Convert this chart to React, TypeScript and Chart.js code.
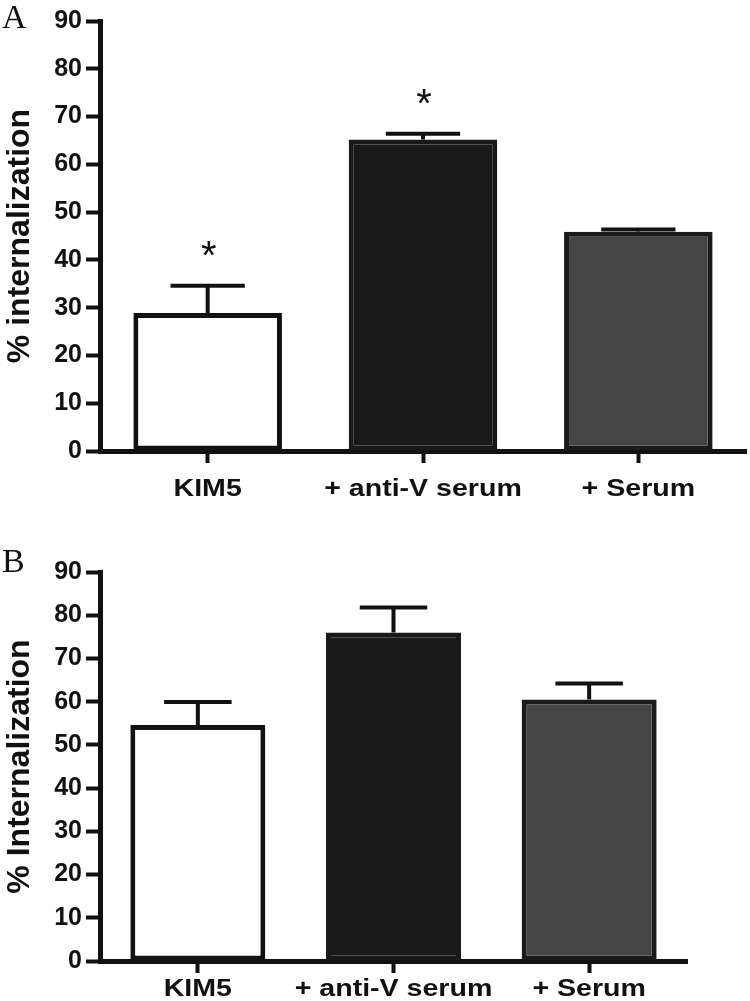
import React, { useEffect, useRef } from "react";
import { Chart, registerables } from "chart.js";

Chart.register(...registerables);

const categories = ["KIM5", "+ anti-V serum", "+ Serum"];
const valuesA = [28.9, 65.2, 45.9];
const errorsA = [5.7, 1.2, 0.45];
const starsA = ["*", "*", ""];
const valuesB = [54.6, 76.0, 60.5];
const errorsB = [5.3, 5.8, 3.7];
const starsB = ["", "", ""];
const yMin = 0;
const yMax = 90;
const yStep = 10;

const barFills = ["#ffffff", "#191919", "#454545"];
const barBorders = ["#121212", "#191919", "#1a1a1a"];
const INK = "#111111";
const SANS = '"Liberation Sans", Arial, Helvetica, sans-serif';

const errorBarPlugin = {
  id: "errorBars",
  afterDatasetsDraw(chart: any, _args: any, opts: any) {
    const { ctx } = chart;
    const meta = chart.getDatasetMeta(0);
    const yScale = chart.scales.y;
    const data = chart.data.datasets[0].data as number[];
    ctx.save();
    meta.data.forEach((bar: any, i: number) => {
      const { x, y, width } = bar.getProps(["x", "y", "width"], true);
      const capY = yScale.getPixelForValue(data[i] + opts.errors[i]);
      ctx.strokeStyle = INK;
      ctx.lineWidth = 4;
      ctx.lineCap = "butt";
      ctx.beginPath();
      ctx.moveTo(x, y);
      ctx.lineTo(x, capY);
      ctx.moveTo(x - width / 4, capY);
      ctx.lineTo(x + width / 4, capY);
      ctx.stroke();
      if (opts.stars[i]) {
        ctx.fillStyle = INK;
        ctx.font = `40px ${SANS}`;
        ctx.textAlign = "center";
        ctx.textBaseline = "alphabetic";
        ctx.fillText(opts.stars[i], x + 1, capY - 17);
      }
    });
    ctx.restore();
  },
};

// category labels, drawn slightly widened to match the reference lettering
const xLabelPlugin = {
  id: "xLabels",
  afterDraw(chart: any, _args: any, opts: any) {
    const { ctx } = chart;
    const xScale = chart.scales.x;
    const labels = chart.data.labels as string[];
    ctx.save();
    ctx.fillStyle = INK;
    ctx.font = `bold 24px ${SANS}`;
    ctx.textAlign = "center";
    ctx.textBaseline = "alphabetic";
    labels.forEach((lab, i) => {
      const x = xScale.getPixelForValue(i);
      ctx.save();
      ctx.translate(x, opts.baseline);
      ctx.scale(1.19, 1);
      ctx.fillText(lab, 0, 0);
      ctx.restore();
    });
    ctx.restore();
  },
};

const letterPlugin = {
  id: "panelLetter",
  afterDraw(chart: any, _args: any, opts: any) {
    const { ctx } = chart;
    ctx.save();
    ctx.fillStyle = INK;
    ctx.font = '34px "Liberation Serif", "Times New Roman", serif';
    ctx.textAlign = "left";
    ctx.textBaseline = "alphabetic";
    ctx.fillText(opts.letter, opts.x, opts.y);
    ctx.restore();
  },
};

type PanelProps = {
  letter: string;
  letterY: number;
  values: number[];
  errors: number[];
  stars: string[];
  yTitle: string;
  top: number;
  height: number;
  padTop: number;
  padRight: number;
  xAxisHeight: number;
  labelBaseline: number;
};

function Panel(p: PanelProps) {
  const ref = useRef<HTMLCanvasElement | null>(null);
  useEffect(() => {
    if (!ref.current) return;
    const chart = new Chart(ref.current, {
      type: "bar",
      data: {
        labels: categories,
        datasets: [
          {
            data: p.values,
            backgroundColor: barFills,
            borderColor: barBorders,
            borderWidth: 5,
            borderSkipped: false,
            barPercentage: 0.69,
            categoryPercentage: 1,
          },
        ],
      },
      options: {
        responsive: false,
        maintainAspectRatio: false,
        animation: false,
        layout: { padding: { top: p.padTop, right: p.padRight, left: 0, bottom: 0 } },
        plugins: {
          legend: { display: false },
          tooltip: { enabled: false },
          errorBars: { errors: p.errors, stars: p.stars },
          xLabels: { baseline: p.labelBaseline },
          panelLetter: { letter: p.letter, x: 2, y: p.letterY },
        } as any,
        scales: {
          x: {
            offset: true,
            grid: {
              offset: false,
              drawOnChartArea: false,
              drawTicks: true,
              tickLength: 12,
              tickWidth: 4,
              tickColor: INK,
            },
            border: { display: true, color: INK, width: 5 },
            ticks: {
              display: false,
              autoSkip: false,
              maxRotation: 0,
              minRotation: 0,
            },
            afterFit: (s: any) => {
              s.height = p.xAxisHeight;
            },
          },
          y: {
            min: yMin,
            max: yMax,
            grid: {
              drawOnChartArea: false,
              drawTicks: true,
              tickLength: 14,
              tickWidth: 4,
              tickColor: INK,
            },
            border: { display: true, color: INK, width: 5 },
            ticks: {
              stepSize: yStep,
              color: INK,
              font: { family: SANS, size: 25, weight: "bold" },
              padding: 4,
            },
            title: {
              display: true,
              text: p.yTitle,
              color: INK,
              font: { family: SANS, size: 32, weight: "bold" },
              padding: { top: 1, bottom: 0 },
            },
            afterFit: (s: any) => {
              s.width = 100;
            },
          },
        },
      } as any,
      plugins: [errorBarPlugin, xLabelPlugin, letterPlugin],
    });
    return () => chart.destroy();
  }, []);
  return (
    <canvas
      ref={ref}
      width={750}
      height={p.height}
      style={{ position: "absolute", left: 0, top: p.top, width: 750, height: p.height }}
    />
  );
}

export default function App() {
  return (
    <div style={{ position: "absolute", left: 0, top: 0, width: 750, height: 1001, background: "#fff" }}>
      <Panel
        letter="A"
        letterY={28}
        values={valuesA}
        errors={errorsA}
        stars={starsA}
        yTitle="% internalization"
        top={0}
        height={520}
        padTop={21}
        padRight={4}
        xAxisHeight={69}
        labelBaseline={496}
      />
      <Panel
        letter="B"
        letterY={52}
        values={valuesB}
        errors={errorsB}
        stars={starsB}
        yTitle="% Internalization"
        top={520}
        height={481}
        padTop={52}
        padRight={63}
        xAxisHeight={40}
        labelBaseline={475.5}
      />
    </div>
  );
}
